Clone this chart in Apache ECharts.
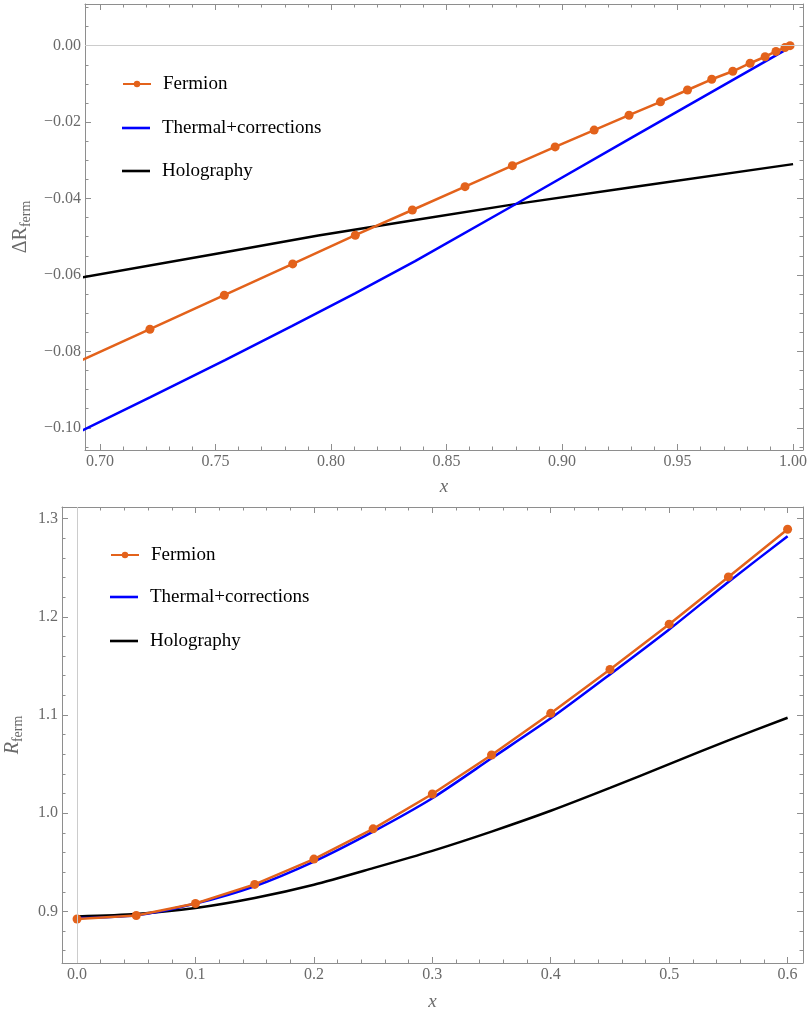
<!DOCTYPE html>
<html><head><meta charset="utf-8">
<script src="https://cdn.jsdelivr.net/npm/echarts@6/dist/echarts.min.js"></script>
<style>html,body{margin:0;padding:0;background:#fff}#c{width:807px;height:1012px}</style>
</head><body><div id="c"></div>
<script>
// ---------- data: top panel (ΔR_ferm vs x) ----------
const topFermionX = [0.688, 0.7216, 0.7538, 0.7834, 0.8105, 0.8352, 0.8580, 0.8785, 0.8970, 0.9139, 0.9290, 0.9426, 0.9543, 0.9648, 0.9739, 0.9814, 0.9879, 0.9926, 0.9965, 0.9987];
const topFermionY = [-0.0834, -0.0742, -0.0653, -0.0571, -0.0496, -0.0430, -0.0369, -0.0314, -0.0265, -0.0221, -0.0182, -0.0147, -0.0116, -0.0088, -0.0067, -0.0046, -0.0029, -0.0015, -0.0005, 0.0000];
const topThermalX = [0.69, 0.7216, 0.7541, 0.7830, 0.8104, 0.8364, 0.8804, 0.9309, 1.0];
const topThermalY = [-0.1014, -0.0920, -0.0823, -0.0734, -0.0648, -0.0564, -0.0413, -0.0238, 0.0];
const topHoloX = [0.69, 0.7498, 0.7945, 0.8364, 0.8804, 0.9309, 1.0];
const topHoloY = [-0.0609, -0.0545, -0.0497, -0.0456, -0.0414, -0.0370, -0.0310];
const topXTicks = [0.70, 0.75, 0.80, 0.85, 0.90, 0.95, 1.00];
const topYTicks = [-0.10, -0.08, -0.06, -0.04, -0.02, 0.00];

// ---------- data: bottom panel (R_ferm vs x) ----------
const botX = [0, 0.05, 0.10, 0.15, 0.20, 0.25, 0.30, 0.35, 0.40, 0.45, 0.50, 0.55, 0.60];
const botFermionY = [0.8923, 0.8959, 0.9081, 0.9275, 0.9533, 0.9841, 1.0196, 1.0593, 1.1017, 1.1464, 1.1925, 1.2406, 1.2891];
const botThermalY = [0.8933, 0.8960, 0.9080, 0.9257, 0.9508, 0.9813, 1.0153, 1.0559, 1.0966, 1.1413, 1.1871, 1.2355, 1.2820];
const botHoloY = [0.8949, 0.8974, 0.9035, 0.9137, 0.9272, 0.9441, 0.9617, 0.9813, 1.0025, 1.0258, 1.0500, 1.0742, 1.0972];
const botXTicks = [0.0, 0.1, 0.2, 0.3, 0.4, 0.5, 0.6];
const botYTicks = [0.9, 1.0, 1.1, 1.2, 1.3];

const names = ['Fermion', 'Thermal+corrections', 'Holography'];

// ---------- style ----------
const FONT = 'Liberation Serif';
const AX = '#8e8e8e';
const LBL = '#6a6a6a';
const ORANGE = '#E3621B';
const BLUE = '#0000FF';
const BLACK = '#000000';

function minorTicks(min, max, step, majors) {
  const out = [];
  const n0 = Math.ceil(min / step - 1e-9), n1 = Math.floor(max / step + 1e-9);
  for (let n = n0; n <= n1; n++) {
    const v = Math.round(n * step * 10000) / 10000;
    if (!majors.some(m => Math.abs(m - v) < 1e-9)) out.push(v);
  }
  return out;
}
const zip = (xs, ys) => xs.map((x, i) => [x, ys[i]]);
const fmt2 = v => (v < -1e-12 ? '\u2212' : '') + Math.abs(v).toFixed(2);
const fmt1 = v => v.toFixed(1);

function baseAxis(gi, pos, min, max) {
  return { type: 'value', gridIndex: gi, position: pos, min: min, max: max,
    splitLine: { show: false }, minorTick: { show: false }, axisPointer: { show: false } };
}
function majorAxis(gi, pos, min, max, ticks, fmt, extra) {
  const a = baseAxis(gi, pos, min, max);
  a.axisLine = { show: true, onZero: false, lineStyle: { color: AX, width: 1 } };
  a.axisTick = { show: true, inside: true, length: 6, customValues: ticks, lineStyle: { color: AX, width: 1 } };
  a.axisLabel = fmt ? { show: true, customValues: ticks, formatter: fmt, margin: 4, color: LBL, fontFamily: FONT, fontSize: 16 } : { show: false };
  return Object.assign(a, extra || {});
}
function minorAxis(gi, pos, min, max, ticks) {
  const a = baseAxis(gi, pos, min, max);
  a.axisLine = { show: false, onZero: false };
  a.axisTick = { show: true, inside: true, length: 3.5, customValues: ticks, lineStyle: { color: AX, width: 1 } };
  a.axisLabel = { show: false };
  return a;
}

// ranges
const tX = [0.6935, 1.0043], tY = [-0.1058, 0.0109];
const bX = [-0.0127, 0.6130], bY = [0.8475, 1.3118];
const tXmin = minorTicks(tX[0], tX[1], 0.01, topXTicks);
const tYmin = minorTicks(tY[0], tY[1], 0.005, topYTicks);
const bXmin = minorTicks(bX[0], bX[1], 0.02, botXTicks);
const bYmin = minorTicks(bY[0], bY[1], 0.02, botYTicks);

const xName = (gap) => ({ name: 'x', nameLocation: 'middle', nameGap: gap,
  nameTextStyle: { fontFamily: FONT, fontStyle: 'italic', fontSize: 19, color: LBL } });

const xAxes = [
  majorAxis(0, 'bottom', tX[0], tX[1], topXTicks, v => v.toFixed(2), xName(27)),
  minorAxis(0, 'bottom', tX[0], tX[1], tXmin),
  majorAxis(0, 'top', tX[0], tX[1], topXTicks, null),
  minorAxis(0, 'top', tX[0], tX[1], tXmin),
  majorAxis(1, 'bottom', bX[0], bX[1], botXTicks, fmt1, xName(29)),
  minorAxis(1, 'bottom', bX[0], bX[1], bXmin),
  majorAxis(1, 'top', bX[0], bX[1], botXTicks, null),
  minorAxis(1, 'top', bX[0], bX[1], bXmin)
];
const yAxes = [
  majorAxis(0, 'left', tY[0], tY[1], topYTicks, fmt2, {
    name: '{a|\u0394R}{b|ferm}', nameLocation: 'middle', nameGap: 50,
    nameTextStyle: { color: LBL, fontFamily: FONT, rich: {
      a: { fontSize: 20, fontFamily: FONT, color: LBL, lineHeight: 24 },
      b: { fontSize: 14, fontFamily: FONT, color: LBL, lineHeight: 14, verticalAlign: 'bottom' } } } }),
  minorAxis(0, 'left', tY[0], tY[1], tYmin),
  majorAxis(0, 'right', tY[0], tY[1], topYTicks, null),
  minorAxis(0, 'right', tY[0], tY[1], tYmin),
  majorAxis(1, 'left', bY[0], bY[1], botYTicks, fmt1, {
    name: '{a|R}{b|ferm}', nameLocation: 'middle', nameGap: 37,
    nameTextStyle: { color: LBL, fontFamily: FONT, rich: {
      a: { fontSize: 20, fontFamily: FONT, fontStyle: 'italic', color: LBL, lineHeight: 24 },
      b: { fontSize: 14, fontFamily: FONT, color: LBL, lineHeight: 14, verticalAlign: 'bottom' } } } }),
  minorAxis(1, 'left', bY[0], bY[1], bYmin),
  majorAxis(1, 'right', bY[0], bY[1], botYTicks, null),
  minorAxis(1, 'right', bY[0], bY[1], bYmin)
];

function legendItem(name, left, centerY, isDot) {
  return {
    data: [isDot ? { name: name } : { name: name, icon: 'rect' }],
    left: left, top: centerY - 10, padding: 0, selectedMode: false,
    itemWidth: 28, itemHeight: isDot ? 8 : 2.6,
    textStyle: { fontFamily: FONT, fontSize: 19, color: '#000', lineHeight: 20, padding: [0, 0, 0, 7] }
  };
}

const markZero = (key) => ({ silent: true, symbol: 'none', animation: false, label: { show: false },
  lineStyle: { color: '#cccccc', width: 1, type: 'solid' }, emphasis: { disabled: true },
  data: [{ [key]: 0 }] });

const series = [
  { name: names[2], type: 'line', xAxisIndex: 0, yAxisIndex: 0, data: zip(topHoloX, topHoloY), symbol: 'none',
    smooth: false, lineStyle: { color: BLACK, width: 2.5 }, itemStyle: { color: BLACK }, z: 2,
    markLine: markZero('yAxis') },
  { name: names[1], type: 'line', xAxisIndex: 0, yAxisIndex: 0, data: zip(topThermalX, topThermalY), symbol: 'none',
    smooth: false, lineStyle: { color: BLUE, width: 2.5 }, itemStyle: { color: BLUE }, z: 3 },
  { name: names[0], type: 'line', xAxisIndex: 0, yAxisIndex: 0, data: zip(topFermionX, topFermionY),
    symbol: 'circle', symbolSize: 9, showSymbol: true, lineStyle: { color: ORANGE, width: 2.5 }, itemStyle: { color: ORANGE }, z: 4 },
  { name: names[2], type: 'line', xAxisIndex: 4, yAxisIndex: 4, data: zip(botX, botHoloY), symbol: 'none',
    smooth: 0.25, lineStyle: { color: BLACK, width: 2.5 }, itemStyle: { color: BLACK }, z: 2,
    markLine: markZero('xAxis') },
  { name: names[1], type: 'line', xAxisIndex: 4, yAxisIndex: 4, data: zip(botX, botThermalY), symbol: 'none',
    smooth: 0.25, lineStyle: { color: BLUE, width: 2.5 }, itemStyle: { color: BLUE }, z: 3 },
  { name: names[0], type: 'line', xAxisIndex: 4, yAxisIndex: 4, data: zip(botX, botFermionY),
    symbol: 'circle', symbolSize: 9, showSymbol: true, lineStyle: { color: ORANGE, width: 2.5 }, itemStyle: { color: ORANGE }, z: 4 }
];

const chart = echarts.init(document.getElementById('c'), null, { renderer: 'canvas' });
chart.setOption({
  animation: false,
  backgroundColor: '#ffffff',
  textStyle: { fontFamily: FONT },
  grid: [
    { left: 85, top: 4, right: 4, bottom: 562, outerBoundsMode: 'none', containLabel: false },
    { left: 62, top: 507, right: 4, bottom: 49, outerBoundsMode: 'none', containLabel: false }
  ],
  xAxis: xAxes,
  yAxis: yAxes,
  legend: [
    legendItem(names[0], 122, 84, true),
    legendItem(names[1], 122, 128, false),
    legendItem(names[2], 122, 171, false),
    legendItem(names[0], 110, 555, true),
    legendItem(names[1], 110, 597, false),
    legendItem(names[2], 110, 641, false)
  ],
  series: series
});
</script>
</body></html>
